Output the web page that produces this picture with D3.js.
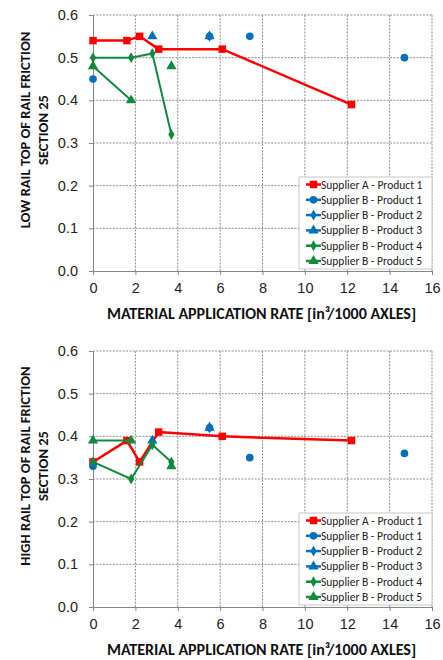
<!DOCTYPE html>
<html lang="en">
<head>
<meta charset="utf-8">
<script src="https://d3js.org/d3.v7.min.js"></script>
<style>
  body { margin: 0; background: #fff; }
  svg { font-family: Carlito, Lato, "Open Sans", sans-serif; }
  .tick text { font-size: 14.5px; fill: #222; }
</style>
</head>
<body>
<div id="chart"></div>
<script>
// tick values
var xTicks = [0, 2, 4, 6, 8, 10, 12, 14, 16];
var yTicks = [0, 0.1, 0.2, 0.3, 0.4, 0.5, 0.6];

var seriesNames = ["Supplier A - Product 1", "Supplier B - Product 1", "Supplier B - Product 2",
                   "Supplier B - Product 3", "Supplier B - Product 4", "Supplier B - Product 5"];

// LOW RAIL values [rate, friction]; null = gap in line
var lowA1 = [[0, 0.54], [1.6, 0.54], [2.2, 0.55], [3.1, 0.52], [6.1, 0.52], [12.2, 0.39]];
var lowB1 = [[0, 0.45], [5.5, 0.55], [7.4, 0.55], [14.7, 0.50]];
var lowB2 = [[5.5, 0.55]];
var lowB3 = [[2.8, 0.55], [5.5, 0.55]];
var lowB4 = [[0, 0.50], [1.8, 0.50], [2.8, 0.51], [3.7, 0.32]];
var lowB5 = [[0, 0.48], [1.8, 0.40], null, [3.7, 0.48]];

// HIGH RAIL values
var highA1 = [[0, 0.34], [1.6, 0.39], [2.2, 0.34], [3.1, 0.41], [6.1, 0.40], [12.2, 0.39]];
var highB1 = [[0, 0.33], [5.5, 0.42], [7.4, 0.35], [14.7, 0.36]];
var highB2 = [[5.5, 0.42]];
var highB3 = [[2.8, 0.39], [5.5, 0.42]];
var highB4 = [[0, 0.34], [1.8, 0.30], [2.8, 0.38], [3.7, 0.34]];
var highB5 = [[0, 0.39], [1.8, 0.39], null, [3.7, 0.33]];

var styles = [
  { color: "#ff0000", marker: "square", line: true, width: 2.5 },
  { color: "#0070c0", marker: "circle", line: false },
  { color: "#0070c0", marker: "diamond", line: false },
  { color: "#0070c0", marker: "triangle", line: false },
  { color: "#108a3c", marker: "diamond", line: true, width: 2 },
  { color: "#108a3c", marker: "triangle", line: true, width: 2 }
];

var W = 443, H = 660;
var svg = d3.select("#chart").append("svg").attr("width", W).attr("height", H);

function marker(g, type, color) {
  var sym;
  if (type === "square") sym = d3.symbol(d3.symbolSquare, 56);
  else if (type === "circle") sym = d3.symbol(d3.symbolCircle, 46);
  else if (type === "diamond") sym = d3.symbol(d3.symbolDiamond, 34);
  else sym = d3.symbol(d3.symbolTriangle, 46);
  g.append("path").attr("d", sym).attr("fill", color);
}

function drawChart(top, title, data) {
  var left = 93, right = 432, bottom = top + 256;
  var x = d3.scaleLinear().domain([0, 16]).range([left, right]);
  var y = d3.scaleLinear().domain([0, 0.6]).range([bottom, top]);
  var g = svg.append("g");

  // dotted grid
  g.selectAll(".vg").data(xTicks.slice(1)).enter().append("line")
    .attr("x1", d => x(d)).attr("x2", d => x(d)).attr("y1", top).attr("y2", bottom)
    .attr("stroke", "#8c8c8c").attr("stroke-dasharray", "2,1.3");
  g.selectAll(".hg").data(yTicks.slice(1)).enter().append("line")
    .attr("x1", left).attr("x2", right).attr("y1", d => y(d)).attr("y2", d => y(d))
    .attr("stroke", "#8c8c8c").attr("stroke-dasharray", "2,1.3");

  var xa = g.append("g").attr("transform", "translate(0," + bottom + ")")
    .call(d3.axisBottom(x).tickValues(xTicks).tickFormat(d3.format("d")).tickSize(4).tickSizeOuter(0).tickPadding(8));
  var ya = g.append("g").attr("transform", "translate(" + left + ",0)")
    .call(d3.axisLeft(y).tickValues(yTicks).tickFormat(d3.format(".1f")).tickSize(4).tickSizeOuter(0).tickPadding(11));
  [xa, ya].forEach(function (a) {
    a.select(".domain").attr("stroke", "#868686");
    a.selectAll(".tick line").attr("stroke", "#868686");
  });

  // axis titles
  g.append("text").attr("x", (left + right) / 2 - 1).attr("y", bottom + 48)
    .attr("text-anchor", "middle").attr("font-size", 16).attr("font-weight", "bold").attr("fill", "#111")
    .html("MATERIAL APPLICATION RATE [in<tspan>³</tspan>/1000 AXLES]");
  var cy = top + 115;
  g.append("text").attr("transform", "translate(30," + cy + ") rotate(-90)")
    .attr("text-anchor", "middle").attr("font-size", 14.5).attr("font-weight", "bold").attr("fill", "#111")
    .text(title);
  g.append("text").attr("transform", "translate(48," + cy + ") rotate(-90)")
    .attr("text-anchor", "middle").attr("font-size", 14.5).attr("font-weight", "bold").attr("fill", "#111")
    .text("SECTION 25");

  // series
  data.forEach(function (pts, i) {
    var s = styles[i];
    if (s.line) {
      g.append("path").datum(pts)
        .attr("fill", "none").attr("stroke", s.color).attr("stroke-width", s.width)
        .attr("d", d3.line().defined(d => d !== null).x(d => x(d[0])).y(d => y(d[1])));
    }
    pts.filter(d => d !== null).forEach(function (d) {
      var m = g.append("g").attr("transform", "translate(" + x(d[0]) + "," + y(d[1]) + ")");
      marker(m, s.marker, s.color);
    });
  });

  // legend
  var lx = 299, ly = bottom - 94;
  var lg = g.append("g");
  lg.append("rect").attr("x", lx).attr("y", ly).attr("width", 133).attr("height", 92)
    .attr("fill", "#fff").attr("stroke", "#c8c8c8");
  seriesNames.forEach(function (name, i) {
    var s = styles[i];
    var iy = ly + 7.5 + i * 15.3;
    lg.append("line").attr("x1", lx + 7).attr("x2", lx + 22).attr("y1", iy).attr("y2", iy)
      .attr("stroke", s.color).attr("stroke-width", 2.5);
    var m = lg.append("g").attr("transform", "translate(" + (lx + 14.5) + "," + iy + ")");
    marker(m, s.marker, s.color);
    lg.append("text").attr("x", lx + 22).attr("y", iy + 4)
      .attr("font-size", 11.5).attr("fill", "#222").text(name);
  });
}

drawChart(15, "LOW RAIL TOP OF RAIL FRICTION", [lowA1, lowB1, lowB2, lowB3, lowB4, lowB5]);
drawChart(351, "HIGH RAIL TOP OF RAIL FRICTION", [highA1, highB1, highB2, highB3, highB4, highB5]);
</script>
</body>
</html>
